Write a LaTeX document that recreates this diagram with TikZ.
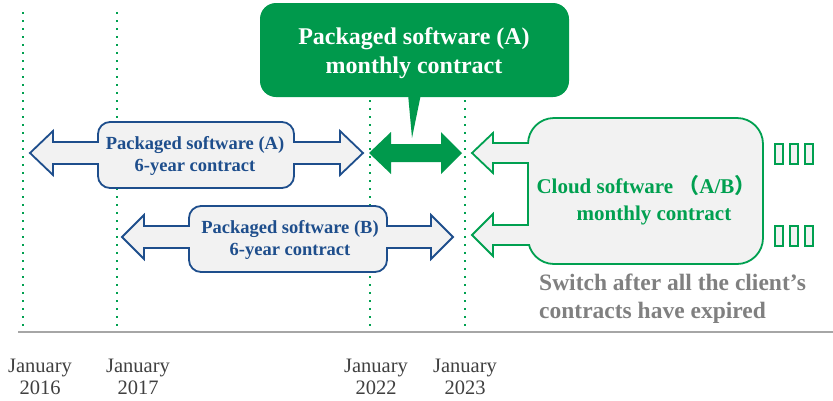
\documentclass[tikz,border=0pt]{standalone}
\usepackage{fontspec}
\setmainfont{Liberation Serif}
\newfontfamily\cjkfont{Noto Sans CJK JP}

\definecolor{pkgblue}{RGB}{30,78,140}
\definecolor{calloutgreen}{RGB}{0,153,76}
\definecolor{cloudgreen}{RGB}{0,160,80}
\definecolor{panel}{RGB}{242,242,242}
\definecolor{yeargray}{RGB}{64,64,64}
\definecolor{notegray}{RGB}{128,128,128}
\definecolor{axisgray}{RGB}{166,166,166}

\tikzset{
  timeline/.style={draw=cloudgreen, line width=2pt, dash pattern=on 2pt off 6pt},
  axisline/.style={draw=axisgray, line width=2pt},
  blueframe/.style={draw=pkgblue, line width=1.8pt, fill=panel, line join=miter},
  greenframe/.style={draw=cloudgreen, line width=1.8pt, fill=panel, line join=miter},
  bluebox/.style={blueframe, rounded corners=12pt, inner sep=0pt, minimum height=66pt},
  cloudbox/.style={greenframe, rounded corners=26pt, inner sep=0pt},
  bluetext/.style={text=pkgblue, align=center, inner sep=0pt,
    font=\fontsize{18.5}{22}\selectfont\bfseries},
  callouttext/.style={text=white, align=center, inner sep=0pt,
    font=\fontsize{24}{29}\selectfont\bfseries},
  cloudtext/.style={text=cloudgreen, align=center, inner sep=0pt,
    font=\fontsize{21}{27}\selectfont\bfseries},
  notetext/.style={text=notegray, align=left, inner sep=0pt,
    font=\fontsize{23.5}{28}\selectfont\bfseries},
  yearlabel/.style={text=yeargray, align=center, inner sep=0pt,
    font=\fontsize{20.5}{22}\selectfont},
  glyphbox/.style={draw=cloudgreen, line width=1.8pt, fill=panel}
}

\begin{document}
\begin{tikzpicture}[x=1pt,y=-1pt]
\useasboundingbox (0,0) rectangle (833,400);

% time grid: vertical dotted year markers and the base axis
\foreach \gx in {23,117,370,465}
  \draw[timeline] (\gx,12) -- (\gx,332);
\draw[axisline] (18,332) -- (833,332);

% year labels
\node[yearlabel] (y2016) at (40,377)  {January\\2016};
\node[yearlabel] (y2017) at (138,377) {January\\2017};
\node[yearlabel] (y2022) at (376,377) {January\\2022};
\node[yearlabel] (y2023) at (465,377) {January\\2023};

% packaged software (A), six-year term
\draw[blueframe] (30,153) -- (53,131) -- (53,142) -- (340,142) -- (340,131)
  -- (363,153) -- (340,175) -- (340,164) -- (53,164) -- (53,175) -- cycle;
\node[bluebox, minimum width=196pt] (boxA) at (196,155) {};
\fill[panel] (96,143.2) rectangle (100.5,162.8);
\fill[panel] (292,143.2) rectangle (296.5,162.8);
\node[bluetext] (lblA) at (195,156) {Packaged software (A)\\6-year contract};

% packaged software (B), six-year term
\draw[blueframe] (122,237) -- (144,215) -- (144,226) -- (431,226) -- (431,215)
  -- (453,237) -- (431,259) -- (431,248) -- (144,248) -- (144,259) -- cycle;
\node[bluebox, minimum width=198pt] (boxB) at (288,239) {};
\fill[panel] (187,227.2) rectangle (191.5,246.8);
\fill[panel] (385,227.2) rectangle (389.5,246.8);
\node[bluetext] (lblB) at (290,240) {Packaged software (B)\\6-year contract};

% monthly contract for (A) between 2022 and 2023
\fill[calloutgreen] (369,153) -- (391,132) -- (391,144) -- (441,144) -- (441,132)
  -- (462,153) -- (441,174) -- (441,162) -- (391,162) -- (391,174) -- cycle;

% callout above the monthly period
\node[fill=calloutgreen, rounded corners=16pt, inner sep=0pt,
      minimum width=309pt, minimum height=94pt] (callout) at (414.5,50) {};
\fill[calloutgreen] (408,94) -- (421,94) -- (412,138) -- cycle;
\node[callouttext] (calloutlbl) at (414,53) {Packaged software (A)\\monthly contract};

% cloud software with its two incoming arrows
\draw[greenframe] (472,153) -- (493,133) -- (493,143) -- (560,143) -- (560,163)
  -- (493,163) -- (493,173) -- cycle;
\draw[greenframe] (472,235) -- (493,214) -- (493,225) -- (560,225) -- (560,245)
  -- (493,245) -- (493,256) -- cycle;
\node[cloudbox, minimum width=235pt, minimum height=146pt] (cloud) at (645.5,191) {};
\fill[panel] (525.5,144.2) rectangle (530.5,161.8);
\fill[panel] (525.5,226.2) rectangle (530.5,243.8);
\node[cloudtext] (cloudlbl) at (646,200)
  {Cloud software {\cjkfont （}A/B{\cjkfont ）}\\\hspace*{16pt}monthly contract};

% note below the cloud box
\node[notetext, anchor=west] (note) at (539,299)
  {Switch after all the client’s\\contracts have expired};

% glyph boxes beside the cloud box
\foreach \gy in {144,226}
  \foreach \gx in {775,790,805}
    \draw[glyphbox] (\gx,\gy) rectangle ++(8,20);
\end{tikzpicture}
\end{document}
